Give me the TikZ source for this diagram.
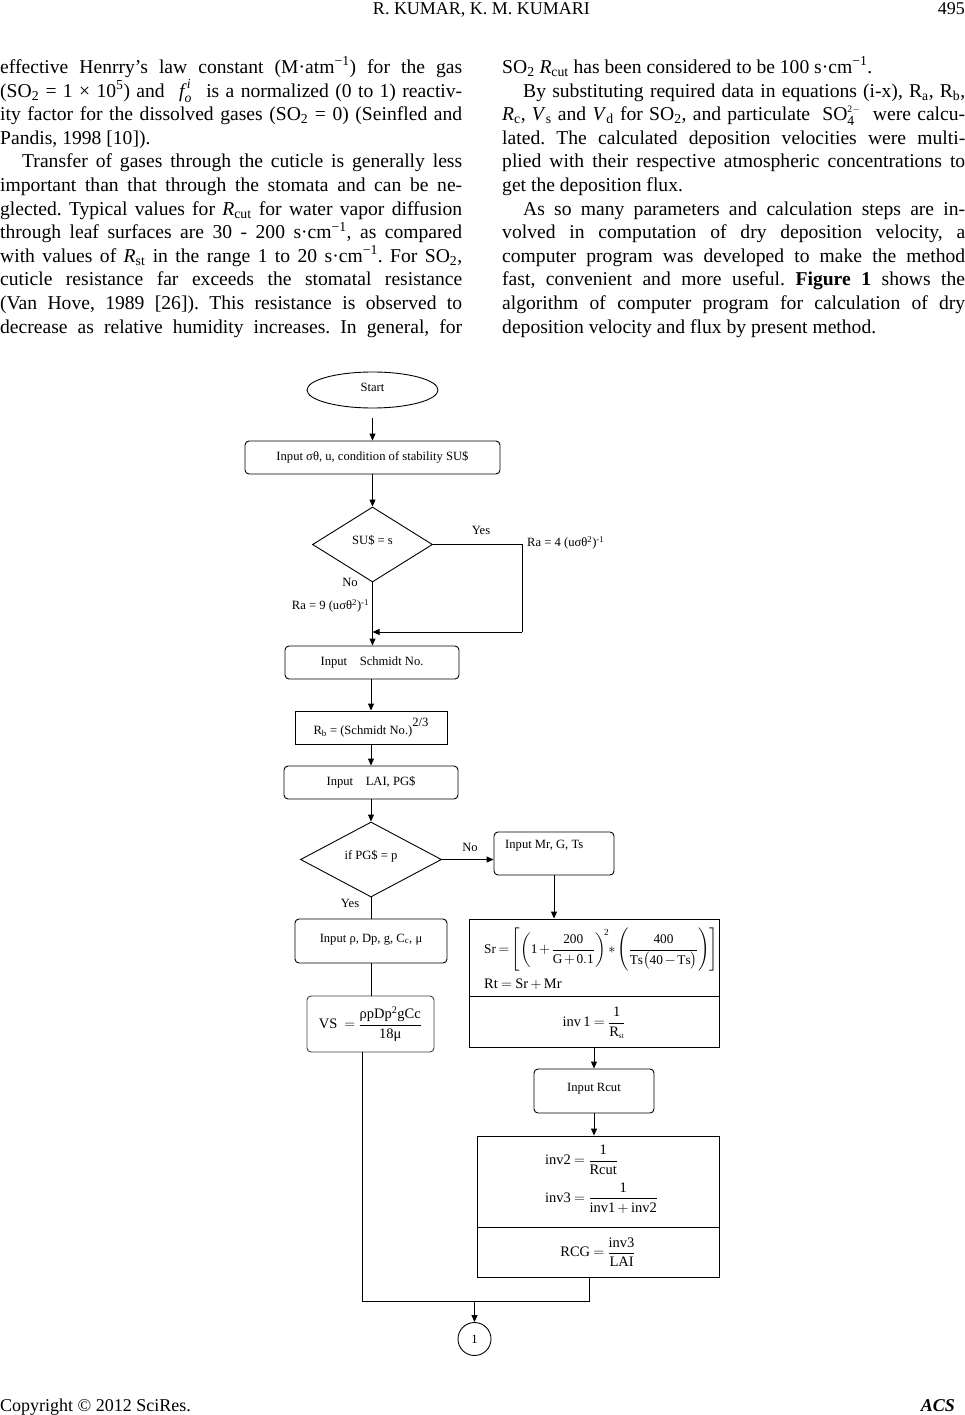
\documentclass[tikz,border=0pt]{standalone}
\usepackage{amsmath}
\usepackage{fontspec}
\setmainfont{Liberation Serif}
\usetikzlibrary{shapes.geometric,arrows.meta}
\frenchspacing
\newcommand\bodyfont{\fontsize{19.6}{23.6}\selectfont\frenchspacing}
\newcommand\hdfont{\fontsize{18}{21}\selectfont}
\newcommand\fcfont{\fontsize{12.6}{15}\selectfont}
\newcommand\fmfont{\fontsize{14.5}{17}\selectfont}
\newcommand\srfont{\fontsize{13.3}{16}\selectfont}
\newcommand\jl[2]{\makebox[#1pt][s]{#2}}
\tikzset{
  bl/.style={anchor=base west, inner sep=0pt, font=\bodyfont},
  hd/.style={inner sep=0pt, font=\hdfont},
  fc/.style={font=\fcfont, inner sep=0pt},
  fm/.style={font=\fmfont, inner sep=0pt},
  rbox/.style={draw, rounded corners=4pt, line width=0.9pt, inner sep=0pt, font=\fcfont},
  sbox/.style={draw, line width=0.9pt, inner sep=0pt},
  dia/.style={draw, diamond, line width=0.9pt, inner sep=0pt, font=\fcfont},
  conn/.style={line width=0.9pt},
  arr/.style={conn, -{Triangle[length=7pt,width=6pt]}},
}
\begin{document}
\begin{tikzpicture}[x=1pt,y=-1pt]
\useasboundingbox (0,0) rectangle (965,1415);
% header
\node[hd, anchor=base] (hdr) at (481.5,15) {R. KUMAR, K. M. KUMARI};
\node[hd, anchor=base east] (pg) at (965,15) {495};
% left column
\node[bl] (l1) at (0,73.5) {\jl{462}{effective Henrry’s law constant (M·atm\textsuperscript{−1}) for the gas}};
\node[bl] (l2) at (0,97.1) {\jl{462}{(SO\textsubscript{2} = 1 × 10\textsuperscript{5}) and\hspace{8pt} $\textit{f}_{\textit{o}}^{\,\textit{i}}$\hspace{8pt} is a normalized (0 to 1) reactiv-}};
\node[bl] (l3) at (0,120.7) {\jl{462}{ity factor for the dissolved gases (SO\textsubscript{2} = 0) (Seinfled and}};
\node[bl] (l4) at (0,144.3) {Pandis, 1998 [10]).};
\node[bl] (l5) at (22,167.9) {\jl{440}{Transfer of gases through the cuticle is generally less}};
\node[bl] (l6) at (0,191.5) {\jl{462}{important than that through the stomata and can be ne-}};
\node[bl] (l7) at (0,215.1) {\jl{462}{glected. Typical values for \textit{R}\textsubscript{cut} for water vapor diffusion}};
\node[bl] (l8) at (0,238.7) {\jl{462}{through leaf surfaces are 30 - 200 s·cm\textsuperscript{−1}, as compared}};
\node[bl] (l9) at (0,262.3) {\jl{462}{with values of \textit{R}\textsubscript{st} in the range 1 to 20 s·cm\textsuperscript{−1}. For SO\textsubscript{2},}};
\node[bl] (l10) at (0,285.9) {\jl{462}{cuticle resistance far exceeds the stomatal resistance}};
\node[bl] (l11) at (0,309.5) {\jl{462}{(Van Hove, 1989 [26]). This resistance is observed to}};
\node[bl] (l12) at (0,333.1) {\jl{462}{decrease as relative humidity increases. In general, for}};
% right column
\node[bl] (r1) at (502,73.5) {SO\textsubscript{2} \textit{R}\textsubscript{cut} has been considered to be 100 s·cm\textsuperscript{−1}.};
\node[bl] (r2) at (523,97.1) {\jl{442}{By substituting required data in equations (i-x), R\textsubscript{a}, R\textsubscript{b},}};
\node[bl] (r3) at (502,120.7) {\jl{463}{\textit{R}\textsubscript{c}, \textit{V}\textsubscript{s} and \textit{V}\textsubscript{d} for SO\textsubscript{2}, and particulate\hspace{6pt} $\mathrm{SO}_{\mathrm{4}}^{\scriptscriptstyle\mathrm{2}-}$\hspace{6pt} were calcu-}};
\node[bl] (r4) at (502,144.3) {\jl{463}{lated. The calculated deposition velocities were multi-}};
\node[bl] (r5) at (502,167.9) {\jl{463}{plied with their respective atmospheric concentrations to}};
\node[bl] (r6) at (502,191.5) {get the deposition flux.};
\node[bl] (r7) at (523,215.1) {\jl{442}{As so many parameters and calculation steps are in-}};
\node[bl] (r8) at (502,238.7) {\jl{463}{volved in computation of dry deposition velocity, a}};
\node[bl] (r9) at (502,262.3) {\jl{463}{computer program was developed to make the method}};
\node[bl] (r10) at (502,285.9) {\jl{463}{fast, convenient and more useful. \textbf{Figure 1} shows the}};
\node[bl] (r11) at (502,309.5) {\jl{463}{algorithm of computer program for calculation of dry}};
\node[bl] (r12) at (502,333.1) {deposition velocity and flux by present method.};
% footer
\node[hd, anchor=base west] (cp) at (0,1411) {Copyright © 2012 SciRes.};
\node[hd, anchor=base east] (acs) at (955,1411) {\textbf{\textit{ACS}}};

% flowchart
\node[draw, ellipse, line width=0.9pt, inner sep=0pt, minimum width=131pt, minimum height=36pt, font=\fcfont] (start) at (372.5,390) {\raisebox{5pt}{Start}};
\coordinate (a1) at (372.5,418);
\node[rbox, minimum width=255pt, minimum height=33pt] (in1) at (372.5,457.5) {Input σθ, u, condition of stability SU\$};
\draw[arr] (a1) -- (in1.north);
\node[dia, minimum width=120pt, minimum height=75pt] (d1) at (372.5,544.5) {\raisebox{9pt}{SU\$ = s}};
\draw[arr] (in1.south) -- (d1.north);
\node[fc] (yes1) at (481,530) {Yes};
\node[fc, anchor=west] (ra4) at (527,543) {Ra = 4 (uσθ\textsuperscript{2})\textsuperscript{-1}};
\node[fc] (no1) at (350,582) {No};
\node[fc] (ra9) at (330.5,606) {Ra = 9 (uσθ\textsuperscript{2})\textsuperscript{-1}};
\node[rbox, minimum width=174pt, minimum height=33pt] (sch) at (372,662.5) {\raisebox{3pt}{Input\quad Schmidt No.}};
\coordinate (yr1) at (522,544.5);
\coordinate (yr2) at (522,632);
\coordinate (yj) at (372.5,632);
\draw[conn] (d1.east) -- (yr1) -- (yr2);
\draw[arr] (yr2) -- (yj);
\draw[arr] (d1.south) -- (sch.north -| d1.south);
\node[sbox, minimum width=152pt, minimum height=33pt, font=\fcfont] (rb) at (371,727.5) {R\textsubscript{b} = (Schmidt No.)\raisebox{8pt}{2/3}};
\draw[arr] (sch.south -| rb.north) -- (rb.north);
\node[rbox, minimum width=174pt, minimum height=33pt] (lai) at (371,782.5) {\raisebox{3pt}{Input\quad LAI, PG\$}};
\draw[arr] (rb.south) -- (lai.north);
\node[dia, minimum width=141pt, minimum height=75pt] (d2) at (371,859.5) {\raisebox{9pt}{if PG\$ = p}};
\draw[arr] (lai.south) -- (d2.north);
\node[rbox, minimum width=120pt, minimum height=43pt] (mr) at (554,853.5) {};
\node[fc, anchor=west] (mrt) at (505,846) {Input Mr, G, Ts};
\draw[arr] (d2.east) -- (d2.east -| mr.west);
\node[fc] (no2) at (470,847) {No};
\node[fc] (yes2) at (350,903) {Yes};
\node[rbox, minimum width=152pt, minimum height=44pt] (rho) at (371,941) {\raisebox{6pt}{Input ρ, Dp, g, C\textsubscript{c}, μ}};
\draw[conn] (d2.south) -- (rho.north);
\node[rbox, draw=black!75, minimum width=127pt, minimum height=56pt, font=\fmfont] (vs) at (370.5,1024) {$\medmuskip=3mu\thickmuskip=4mu\mathrm{VS}\ =\dfrac{\text{ρpDp}^{\mathrm{2}}\mathrm{gCc}}{\mathrm{18}\text{μ}}$};
\draw[conn] (rho.south) -- (rho.south |- vs.north);
% big box 1
\node[sbox, minimum width=250pt, minimum height=77pt] (b1t) at (594,957.5) {};
\node[sbox, minimum width=250pt, minimum height=51pt] (b1b) at (594,1021.5) {};
\draw[arr] (mr.south) -- (mr.south |- b1t.north);
\node[fm, font=\srfont, anchor=west] (sr) at (484,950) {$\medmuskip=2mu\thickmuskip=3mu\mathrm{Sr}=\left[\left(\mathrm{1}+\dfrac{\mathrm{200}}{\mathrm{G}+\mathrm{0.1}}\right)^{\!\scriptstyle\mathrm{2}}\!*\left(\dfrac{\mathrm{400}}{\mathrm{Ts}\bigl(\mathrm{40}-\mathrm{Ts}\bigr)}\right)\right]$};
\node[fm, anchor=west] (rt) at (484,984) {$\medmuskip=3mu\thickmuskip=4mu\mathrm{Rt}=\mathrm{Sr}+\mathrm{Mr}$};
\node[fm] (inv1) at (594,1023) {$\thickmuskip=4mu\mathrm{inv\,1}=\dfrac{\mathrm{1}}{\mathrm{R}_{\scriptscriptstyle\mathrm{st}}}$};
\node[rbox, minimum width=120pt, minimum height=44pt] (rcut) at (594,1091) {\raisebox{7pt}{Input Rcut}};
\draw[arr] (b1b.south) -- (rcut.north);
% big box 2
\node[sbox, minimum width=242pt, minimum height=91pt] (b2t) at (598,1181.5) {};
\node[sbox, minimum width=242pt, minimum height=50pt] (b2b) at (598,1252) {};
\draw[arr] (rcut.south) -- (rcut.south |- b2t.north);
\node[fm, anchor=west] (inv2) at (545,1160) {$\thickmuskip=4mu\mathrm{inv2}=\dfrac{\mathrm{1}}{\mathrm{Rcut}}$};
\node[fm, anchor=west] (inv3) at (545,1198) {$\medmuskip=3mu\thickmuskip=4mu\mathrm{inv3}=\dfrac{\mathrm{1}}{\mathrm{inv1}+\mathrm{inv2}}$};
\node[fm] (rcg) at (598,1252) {$\thickmuskip=4mu\mathrm{RCG}=\dfrac{\mathrm{inv3}}{\mathrm{LAI}}$};
% merge
\node[draw, circle, line width=0.9pt, inner sep=0pt, minimum size=33pt, font=\fcfont] (c1) at (474.5,1339) {1};
\coordinate (m1) at (589,1277);
\coordinate (m2) at (589,1301);
\coordinate (m3) at (362,1301);
\coordinate (m4) at (362,1052);
\coordinate (mj) at (474.5,1301);
\draw[conn] (m1) -- (m2) -- (m3) -- (m4);
\draw[arr] (mj) -- (c1.north);
\end{tikzpicture}
\end{document}
